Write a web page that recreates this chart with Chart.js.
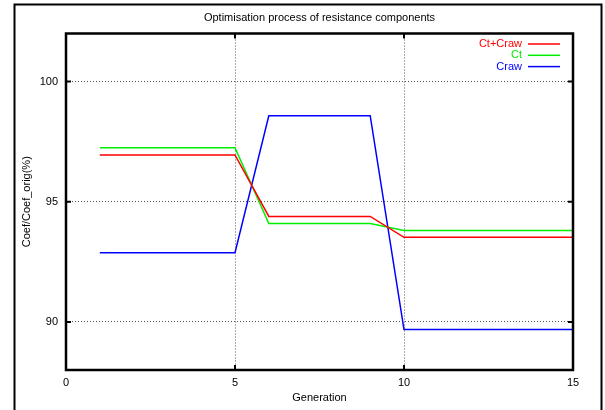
<!DOCTYPE html>
<html>
<head>
<meta charset="utf-8">
<script src="https://cdn.jsdelivr.net/npm/chart.js@4"></script>
<style>
  body { margin: 0; background: #fff; }
  canvas { display: block; }
</style>
</head>
<body>
<canvas id="optChart" width="605" height="410"></canvas>
<script>
// Data
const generations = [1, 2, 3, 4, 5, 6, 7, 8, 9, 10, 11, 12, 13, 14, 15];
const ctCraw = [96.95, 96.95, 96.95, 96.95, 96.95, 94.39, 94.39, 94.39, 94.39, 93.52, 93.52, 93.52, 93.52, 93.52, 93.52];
const ct     = [97.25, 97.25, 97.25, 97.25, 97.25, 94.09, 94.09, 94.09, 94.09, 93.80, 93.80, 93.80, 93.80, 93.80, 93.80];
const craw   = [92.88, 92.88, 92.88, 92.88, 92.88, 98.58, 98.58, 98.58, 98.58, 89.68, 89.68, 89.68, 89.68, 89.68, 89.68];
const xTicks = [0, 5, 10, 15];
const yTicks = [90, 95, 100];

Chart.defaults.font.family = "'Liberation Sans', Arial, sans-serif";
Chart.defaults.font.size = 11;
Chart.defaults.color = '#000';

function toPoints(ys) {
  return generations.map((g, i) => ({ x: g, y: ys[i] }));
}

// gnuplot style frame, inward tick marks, outer border and legend
const framePlugin = {
  id: 'frame',
  afterDraw(chart) {
    const c = chart.ctx;
    const a = chart.chartArea;
    const xs = chart.scales.x;
    const ys = chart.scales.y;
    c.save();
    c.strokeStyle = '#000';

    // outer border (no bottom edge visible)
    c.lineWidth = 2;
    c.beginPath();
    c.moveTo(14.5, 412);
    c.lineTo(14.5, 4.5);
    c.lineTo(601.5, 4.5);
    c.lineTo(601.5, 412);
    c.stroke();

    // plot frame
    c.lineWidth = 2.5;
    c.strokeRect(a.left, a.top, a.right - a.left, a.bottom - a.top);

    // tick marks
    c.lineWidth = 2;
    c.beginPath();
    xTicks.forEach(v => {
      const px = xs.getPixelForValue(v);
      c.moveTo(px, a.bottom); c.lineTo(px, a.bottom - 5);
      c.moveTo(px, a.top); c.lineTo(px, a.top + 5);
    });
    yTicks.forEach(v => {
      const py = ys.getPixelForValue(v);
      c.moveTo(a.left, py); c.lineTo(a.left + 5, py);
      c.moveTo(a.right, py); c.lineTo(a.right - 5, py);
    });
    c.stroke();

    // legend: text right aligned, sample line to its right
    c.font = "11px 'Liberation Sans', Arial, sans-serif";
    c.textAlign = 'right';
    c.textBaseline = 'middle';
    chart.data.datasets.forEach((ds, i) => {
      const y = 44 + i * 11.3;
      c.fillStyle = ds.borderColor;
      c.fillText(ds.label, 522, y);
      c.strokeStyle = ds.borderColor;
      c.lineWidth = 1.5;
      c.beginPath();
      c.moveTo(528, y);
      c.lineTo(560, y);
      c.stroke();
    });
    c.restore();
  }
};

const gridStyle = {
  color: '#555',
  lineWidth: 1,
  drawTicks: false
};

new Chart(document.getElementById('optChart'), {
  type: 'line',
  data: {
    datasets: [
      { label: 'Ct+Craw', data: toPoints(ctCraw), borderColor: '#ff0000', borderWidth: 1.5, pointRadius: 0, tension: 0 },
      { label: 'Ct', data: toPoints(ct), borderColor: '#00ee00', borderWidth: 1.5, pointRadius: 0, tension: 0 },
      { label: 'Craw', data: toPoints(craw), borderColor: '#0000ff', borderWidth: 1.5, pointRadius: 0, tension: 0 }
    ]
  },
  options: {
    responsive: false,
    animation: false,
    layout: { padding: { left: 0, right: 32, top: 0, bottom: 0 } },
    plugins: {
      legend: { display: false },
      tooltip: { enabled: false },
      title: {
        display: true,
        fullSize: false,
        text: 'Optimisation process of resistance components',
        color: '#000',
        font: { size: 11, weight: 'normal' },
        padding: { top: 11, bottom: 9.3 }
      }
    },
    scales: {
      x: {
        type: 'linear',
        min: 0,
        max: 15,
        afterBuildTicks: s => { s.ticks = xTicks.map(v => ({ value: v })); },
        afterFit: s => { s.height = 40; },
        grid: gridStyle,
        border: { display: false, dash: [1, 2] },
        ticks: { padding: 6, color: '#000' },
        title: { display: true, text: 'Generation', color: '#000', padding: { top: 0, bottom: 5 } }
      },
      y: {
        type: 'linear',
        min: 88,
        max: 102,
        afterBuildTicks: s => { s.ticks = yTicks.map(v => ({ value: v })); },
        afterFit: s => { s.width = 66; },
        grid: gridStyle,
        border: { display: false, dash: [1, 2] },
        ticks: { padding: 8, color: '#000' },
        title: { display: true, text: 'Coef/Coef_orig(%)', color: '#000', padding: { top: 20, bottom: 0 } }
      }
    }
  },
  plugins: [framePlugin]
});
</script>
</body>
</html>
